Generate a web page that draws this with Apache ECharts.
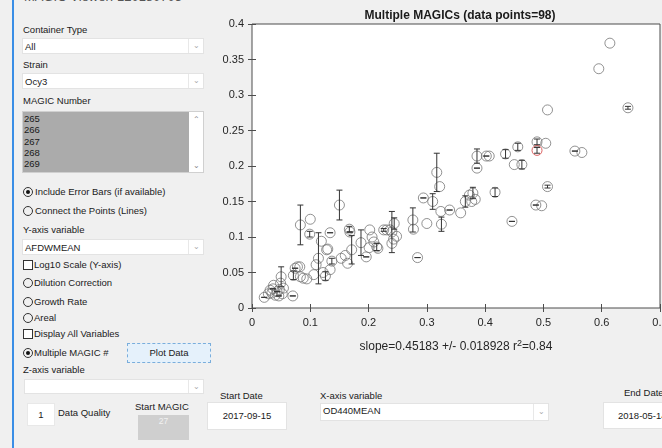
<!DOCTYPE html>
<html>
<head>
<meta charset="utf-8">
<script src="https://cdn.jsdelivr.net/npm/echarts@6/dist/echarts.min.js"></script>
<style>
  html, body { margin: 0; padding: 0; background: #f0f0f0; overflow: hidden; }
  body { width: 662px; height: 448px; position: relative; font-family: Arial, "Liberation Sans", sans-serif; font-size: 9.5px; color: #1a1a1a; }
  #chart { position: absolute; left: 0; top: 0; width: 662px; height: 448px; }
  .ui { position: absolute; white-space: nowrap; }
  .box { position: absolute; background: #fff; border: 1px solid #d9d9d9; box-sizing: border-box; }
  .drop { position: absolute; background: #fff; border: 1px solid #e3e3e3; box-sizing: border-box; padding: 2px 0 0 2px; }
  .drop .chev { position: absolute; right: 0; top: 0; bottom: 0; width: 14px; border-left: 1px solid #e8e8e8; color: #aaa; font-size: 8px; text-align: center; line-height: 14px; }
  .radio { position: absolute; width: 10px; height: 10px; border: 1px solid #333; border-radius: 50%; box-sizing: border-box; }
  .radio.on::after { content: ''; position: absolute; left: 2px; top: 2px; width: 4px; height: 4px; border-radius: 50%; background: #111; }
  .check { position: absolute; width: 10px; height: 10px; border: 1px solid #333; box-sizing: border-box; background: #fff; }
</style>
</head>
<body>
<div style="position:absolute;left:12px;top:0;width:2px;height:448px;background:#3a8ee6"></div>
<div class="ui" style="left:24px;top:-11px;font-size:13px;color:#555">MAGIC Viewer: 120180705</div>

<div class="ui" style="left:23px;top:24px">Container Type</div>
<div class="drop" style="left:22px;top:38px;width:182px;height:16px">All<div class="chev">&#8964;</div></div>
<div class="ui" style="left:23px;top:59px">Strain</div>
<div class="drop" style="left:22px;top:73px;width:182px;height:16px">Ocy3<div class="chev">&#8964;</div></div>
<div class="ui" style="left:23px;top:95px">MAGIC Number</div>
<div style="position:absolute;left:22px;top:111px;width:182px;height:62px;background:#ababab;border:1px solid #d0d0d0;box-sizing:border-box">
  <div style="position:absolute;left:1px;top:1px;line-height:11.3px">265<br>266<br>267<br>268<br>269</div>
  <div style="position:absolute;right:0;top:0;bottom:0;width:14px;background:#fff;color:#888;font-size:8px;text-align:center">
    <div style="position:absolute;top:3px;width:14px">&#8963;</div>
    <div style="position:absolute;bottom:2px;width:14px">&#8964;</div>
  </div>
</div>

<div class="radio on" style="left:23px;top:187px"></div>
<div class="ui" style="left:35px;top:186px">Include Error Bars (if available)</div>
<div class="radio" style="left:23px;top:206px"></div>
<div class="ui" style="left:35px;top:205px">Connect the Points (Lines)</div>
<div class="ui" style="left:23px;top:224px">Y-axis variable</div>
<div class="drop" style="left:22px;top:239px;width:182px;height:16px">AFDWMEAN<div class="chev">&#8964;</div></div>
<div class="check" style="left:23px;top:260px"></div>
<div class="ui" style="left:34px;top:259px">Log10 Scale (Y-axis)</div>
<div class="radio" style="left:23px;top:278px"></div>
<div class="ui" style="left:34px;top:277px">Dilution Correction</div>
<div class="radio" style="left:23px;top:297px"></div>
<div class="ui" style="left:34px;top:296px">Growth Rate</div>
<div class="radio" style="left:23px;top:313px"></div>
<div class="ui" style="left:34px;top:312px">Areal</div>
<div class="check" style="left:23px;top:329px"></div>
<div class="ui" style="left:34px;top:328px">Display All Variables</div>
<div class="radio on" style="left:23px;top:348px"></div>
<div class="ui" style="left:34px;top:347px">Multiple MAGIC #</div>
<div style="position:absolute;left:127px;top:343px;width:84px;height:20px;background:#e5f1fb;border:1px dashed #7aaedc;box-sizing:border-box;text-align:center;line-height:18px">Plot Data</div>
<div class="ui" style="left:23px;top:364px">Z-axis variable</div>
<div class="drop" style="left:24px;top:379px;width:180px;height:15px"><div class="chev">&#8964;</div></div>
<div class="box" style="left:27px;top:403px;width:28px;height:23px;text-align:center;line-height:21px;border-color:#e8e8e8">1</div>
<div class="ui" style="left:58px;top:407px">Data Quality</div>
<div class="ui" style="left:135px;top:401px">Start MAGIC</div>
<div style="position:absolute;left:138px;top:415px;width:51px;height:25px;background:#cfcfcf;color:#f2f2f2;text-align:center;font-size:8.5px;line-height:13px">27</div>

<div class="ui" style="left:220px;top:390px">Start Date</div>
<div class="box" style="left:207px;top:402px;width:80px;height:28px;text-align:center;line-height:26px;border-color:#e3e3e3">2017-09-15</div>
<div class="ui" style="left:320px;top:390px">X-axis variable</div>
<div class="drop" style="left:320px;top:403px;width:229px;height:18px;padding-top:1px">OD440MEAN<div class="chev" style="line-height:16px">&#8964;</div></div>
<div class="ui" style="left:624px;top:387px">End Date</div>
<div class="box" style="left:603px;top:402px;width:70px;height:27px;line-height:25px;padding-left:14px;border-color:#e3e3e3">2018-05-14</div>

<div id="chart"></div>
<script>
const xValues = [
  0.614, 0.595, 0.645, 0.507, 0.504, 0.489, 0.489, 0.554, 0.566, 0.456,
  0.435, 0.450, 0.463, 0.407, 0.402, 0.386, 0.386, 0.507, 0.487, 0.497,
  0.417, 0.446, 0.379, 0.373, 0.383, 0.377, 0.366, 0.358, 0.339, 0.324,
  0.325, 0.300, 0.317, 0.322, 0.294, 0.310, 0.276, 0.277, 0.284, 0.244,
  0.248, 0.243, 0.240, 0.237, 0.226, 0.231, 0.202, 0.206, 0.209, 0.214,
  0.216, 0.201, 0.196, 0.187, 0.167, 0.171, 0.168, 0.153, 0.160, 0.164,
  0.150, 0.137, 0.134, 0.134, 0.128, 0.126, 0.122, 0.119, 0.114, 0.110,
  0.106, 0.100, 0.099, 0.083, 0.094, 0.088, 0.083, 0.082, 0.074, 0.078,
  0.071, 0.070, 0.050, 0.049, 0.054, 0.037, 0.031, 0.043, 0.040, 0.021,
  0.034, 0.046, 0.036, 0.047, 0.028, 0.052, 0.240, 0.130
]
const yValues = [
  0.373, 0.337, 0.282, 0.279, 0.232, 0.234, 0.222, 0.221, 0.219, 0.227,
  0.217, 0.202, 0.202, 0.214, 0.214, 0.214, 0.197, 0.171, 0.145, 0.144,
  0.163, 0.122, 0.162, 0.159, 0.153, 0.150, 0.150, 0.134, 0.138, 0.136,
  0.118, 0.119, 0.191, 0.171, 0.155, 0.150, 0.124, 0.111, 0.071, 0.119,
  0.101, 0.097, 0.107, 0.110, 0.110, 0.110, 0.110, 0.100, 0.093, 0.086,
  0.084, 0.085, 0.072, 0.092, 0.111, 0.082, 0.107, 0.070, 0.074, 0.063,
  0.145, 0.066, 0.054, 0.106, 0.082, 0.045, 0.050, 0.094, 0.070, 0.061,
  0.047, 0.125, 0.104, 0.117, 0.041, 0.042, 0.044, 0.058, 0.056, 0.058,
  0.046, 0.017, 0.044, 0.035, 0.028, 0.032, 0.025, 0.023, 0.018, 0.015,
  0.021, 0.017, 0.027, 0.026, 0.020, 0.020, 0.091, 0.083
]
const errValues = [
  null, null, 0.002, null, null, 0.004, 0.004, 0, null, 0.005,
  0.006, null, 0.006, null, 0, 0.01, 0, 0.002, 0, null,
  0.006, 0, 0.008, null, null, null, 0.008, null, 0, null,
  0.01, null, 0.027, null, 0, 0.011, 0.017, null, 0, 0.008,
  null, null, 0.029, null, 0.002, null, null, null, null, 0.005,
  null, null, 0, 0.018, 0.004, 0.02, 0, null, null, null,
  0.021, 0.004, null, 0, null, 0.006, null, null, 0.036, null,
  null, null, 0.004, 0.028, null, null, null, null, 0, null,
  0.006, 0, 0.014, null, null, null, null, 0, null, 0,
  null, 0, 0, null, null, null, null, null
]
const highlightIndex = 6
const xTicks = [0, 0.7, 0.1]
const yTicks = [0, 0.4, 0.05]

const chart = echarts.init(document.getElementById('chart'), null, { renderer: 'canvas' })

const pts = xValues.map((x, i) => [x, yValues[i], errValues[i]])
const errPts = pts.filter((p) => p[2] !== null)

const axisColor = '#4d4d4d'
const labelFont = { color: '#262626', fontSize: 11, fontFamily: 'Arial, Liberation Sans, sans-serif' }

chart.setOption({
  animation: false,
  backgroundColor: 'transparent',
  title: {
    text: 'Multiple MAGICs (data points=98)',
    left: 455,
    textAlign: 'center',
    top: 5,
    textStyle: { fontSize: 12, fontWeight: 'bold', color: '#1a1a1a', fontFamily: 'Arial, Liberation Sans, sans-serif' },
  },
  grid: {
    left: 252, right: 2, top: 24, bottom: 140,
    outerBoundsMode: 'none',
    containLabel: false,
    show: true, backgroundColor: '#fff', borderColor: axisColor, borderWidth: 1,
  },
  xAxis: [
    {
      type: 'value', min: xTicks[0], max: xTicks[1], interval: xTicks[2],
      axisLine: { show: false },
      axisTick: { show: true, inside: true, length: 4, lineStyle: { color: axisColor } },
      splitLine: { show: false },
      axisLabel: { ...labelFont, margin: 9, showMaxLabel: true,
        formatter: (v) => (Math.round(v * 10) / 10).toString() },
      name: 'slope=0.45183 +/- 0.018928 r{sup|2}=0.84',
      nameLocation: 'middle',
      nameGap: 31,
      nameTextStyle: {
        color: '#262626', fontSize: 12, fontFamily: 'Arial, Liberation Sans, sans-serif',
        rich: { sup: { fontSize: 9, verticalAlign: 'top', padding: [0, 0, 7, 0], color: '#262626' } },
      },
    },
    {
      type: 'value', position: 'top', min: xTicks[0], max: xTicks[1], interval: xTicks[2],
      axisLine: { show: false }, axisLabel: { show: false }, splitLine: { show: false },
      axisTick: { show: true, inside: true, length: 4, lineStyle: { color: axisColor } },
    },
  ],
  yAxis: [
    {
      type: 'value', min: yTicks[0], max: yTicks[1], interval: yTicks[2],
      axisLine: { show: false },
      axisTick: { show: true, inside: true, length: 4, lineStyle: { color: axisColor } },
      splitLine: { show: false },
      axisLabel: { ...labelFont, margin: 8,
        formatter: (v) => (Math.round(v * 100) / 100).toString() },
    },
    {
      type: 'value', position: 'right', min: yTicks[0], max: yTicks[1], interval: yTicks[2],
      axisLine: { show: false }, axisLabel: { show: false }, splitLine: { show: false },
      axisTick: { show: true, inside: true, length: 4, lineStyle: { color: axisColor } },
    },
  ],
  series: [
    {
      type: 'scatter',
      data: pts.map((p, i) => ({
        value: [p[0], p[1]],
        itemStyle: i === highlightIndex ? { borderColor: '#d23c3c' } : undefined,
      })),
      symbol: 'circle',
      symbolSize: 10,
      itemStyle: { color: 'rgba(0,0,0,0)', borderColor: '#777', borderWidth: 1 },
      z: 2,
    },
    {
      type: 'custom',
      data: errPts,
      z: 3,
      renderItem: (params, api) => {
        const x = api.value(0)
        const y = api.value(1)
        const e = api.value(2)
        const top = api.coord([x, y + e])
        const bot = api.coord([x, y - e])
        const w = 3
        const st = { stroke: '#333', lineWidth: 1 }
        return {
          type: 'group',
          children: [
            { type: 'line', shape: { x1: top[0], y1: top[1], x2: bot[0], y2: bot[1] }, style: st },
            { type: 'line', shape: { x1: top[0] - w, y1: top[1], x2: top[0] + w, y2: top[1] }, style: st },
            { type: 'line', shape: { x1: bot[0] - w, y1: bot[1], x2: bot[0] + w, y2: bot[1] }, style: st },
          ],
        }
      },
    },
  ],
})
</script>
</body>
</html>
